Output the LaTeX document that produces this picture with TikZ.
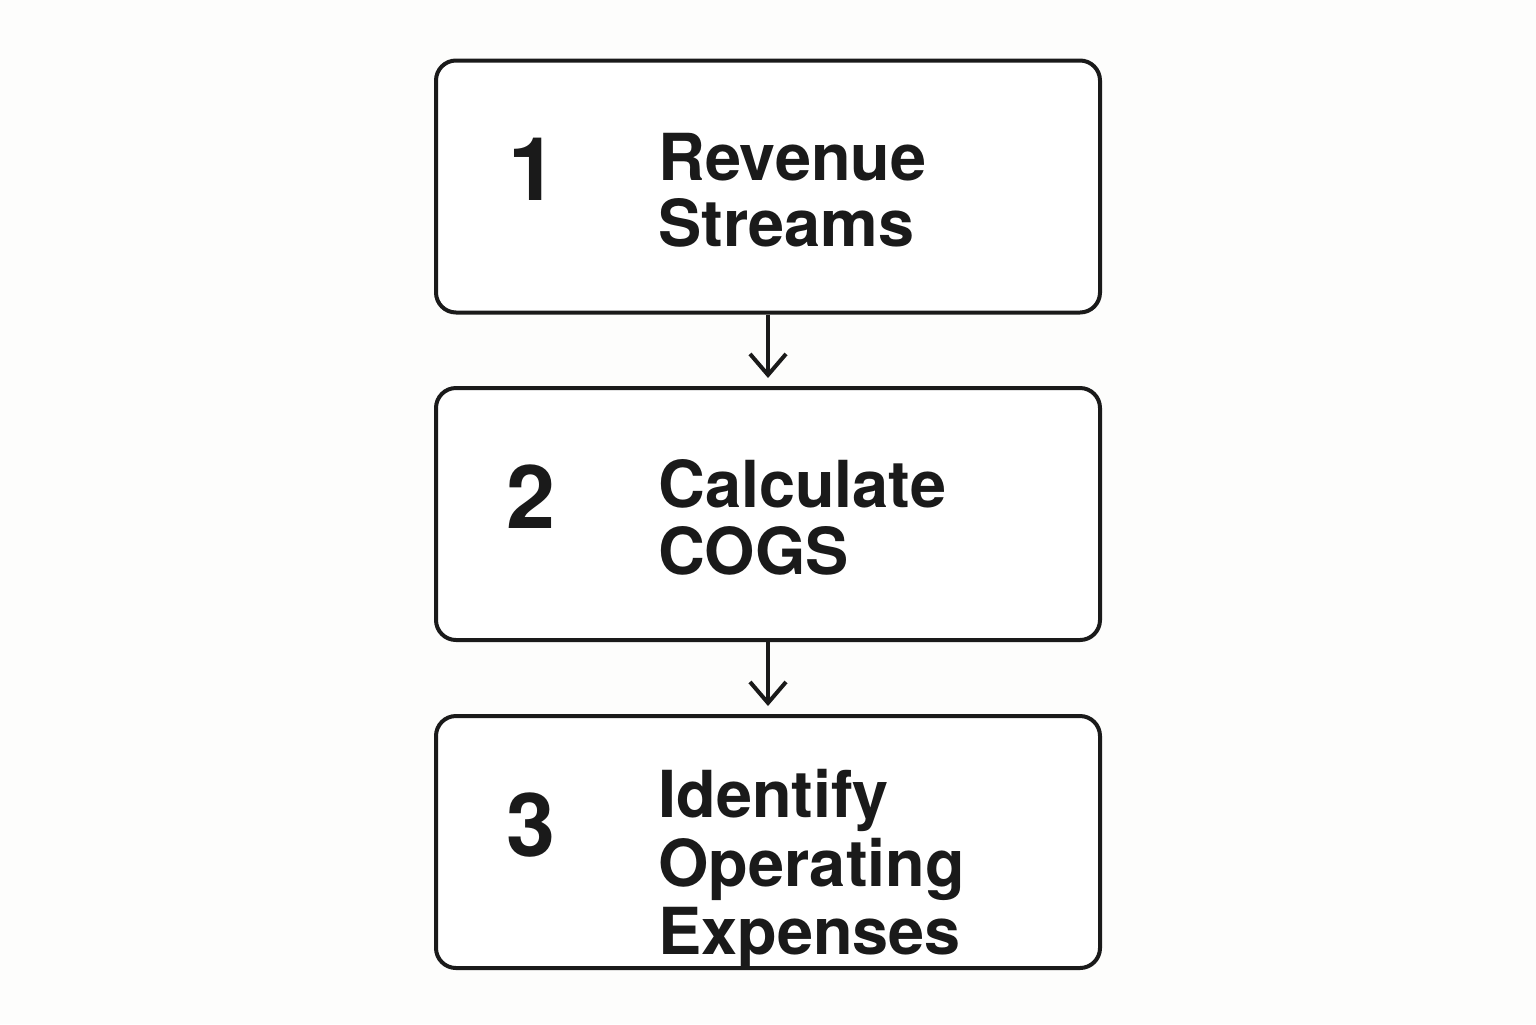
\documentclass[tikz,border=0pt]{standalone}
\usepackage{fontspec}
\setmainfont{TeX Gyre Heros}
\usetikzlibrary{arrows.meta}
\definecolor{ink}{HTML}{1A1A1A}
\definecolor{bg}{HTML}{FDFDFC}
\begin{document}
\begin{tikzpicture}[x=0.5pt,y=-0.5pt,
  stepbox/.style={draw=ink,line width=2pt,rounded corners=10pt,fill=white,minimum width=332pt,minimum height=126pt,inner sep=0pt},
  num/.style={anchor=base west,inner sep=0pt,text=ink,font=\fontsize{44}{44}\selectfont\bfseries},
  lbl/.style={anchor=base west,inner sep=0pt,text=ink,align=left,font=\fontsize{32.4}{34}\selectfont\bfseries},
  conn/.style={draw=ink,line width=2pt,shorten >=4pt,-{Straight Barb[length=10.5pt,width=18pt,line width=2pt]}}]
\fill[bg] (0,0) rectangle (1536,1024);
\useasboundingbox (0,0) rectangle (1536,1024);
\node[stepbox] (box1) at (768,186.5) {};
\node[stepbox] (box2) at (768,514) {};
\node[stepbox] (box3) at (768,842) {};
\node[num] (n1) at (508,200) {1};
\node[num] (n2) at (506,528) {2};
\node[num] (n3) at (506,856) {3};
\node[lbl] (l1a) at (658,180) {Revenue};
\node[lbl] (l1b) at (658,246) {Streams};
\node[lbl] (l2a) at (658,507) {Calculate};
\node[lbl] (l2b) at (658,574) {COGS};
\node[lbl] (l3a) at (658,817) {Identify};
\node[lbl] (l3b) at (658,886) {Operating};
\node[lbl] (l3c) at (658,954) {Expenses};
\draw[conn] (box1.south) -- (box2.north);
\draw[conn] (box2.south) -- (box3.north);
\end{tikzpicture}
\end{document}
